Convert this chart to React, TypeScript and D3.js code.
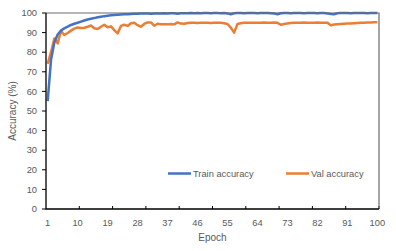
import React, { useRef, useEffect } from 'react';
import * as d3 from 'd3';

// epochs 1..100
const epochs: number[] = d3.range(1, 101);

const trainAcc: number[] = [
  55, 76, 85, 89, 91, 92.2, 93, 93.9, 94.5, 95,
  95.6, 96.2, 96.7, 97.1, 97.4, 97.8, 98.1, 98.4, 98.6, 98.8,
  99, 99.1, 99.2, 99.3, 99.4, 99.5, 99.6, 99.6, 99.7, 99.7,
  99.8, 99.6, 99.8, 99.7, 99.8, 99.9, 99.8, 99.9, 99.9, 99.6,
  99.9, 99.9, 99.9, 100, 99.9, 100, 99.9, 100, 100, 99.9,
  100, 100, 99.9, 100, 99.8, 99.4, 99.9, 100, 100, 99.9,
  100, 100, 100, 99.9, 100, 100, 100, 99.9, 99.8, 99.4,
  99.9, 100, 100, 99.9, 100, 100, 100, 99.9, 100, 100,
  100, 99.9, 100, 100, 99.8, 99.5, 99.4, 99.9, 100, 100,
  100, 99.9, 100, 100, 100, 100, 99.9, 100, 100, 100,
];

const valAcc: number[] = [
  74, 80, 87, 84.5, 90.8, 88.8, 89.8, 91, 92, 92.6,
  92.4, 92.5, 93, 93.6, 92.2, 91.8, 93, 94, 92.7, 93.2,
  91.3, 89.6, 93.4, 94, 93.4, 94.8, 95, 93.8, 93, 94.4,
  95.2, 95.2, 93.5, 94.5, 94.3, 94.2, 94.2, 94.4, 94.2, 95.2,
  94.6, 94.5, 94.9, 95, 95, 94.9, 95, 95, 95, 94.9,
  95, 95, 95, 94.8, 94.4, 92.5, 90, 94.4, 94.8, 95,
  95, 95, 95, 95, 95, 95.1, 95, 95, 95.1, 95,
  94, 94.4, 94.7, 94.9, 95, 95, 95, 95.1, 95, 95,
  95, 95.2, 95, 95, 95, 93.8, 94.1, 94.3, 94.4, 94.5,
  94.6, 94.7, 94.8, 94.9, 95, 95, 95.1, 95.2, 95.3, 95.3,
];

const yTicks: number[] = [0, 10, 20, 30, 40, 50, 60, 70, 80, 90, 100];
const xLabels: number[] = [1, 10, 19, 28, 37, 46, 55, 64, 73, 82, 91, 100];

const W = 396;
const H = 251;
const M = { top: 13, right: 17, bottom: 42, left: 46 };
const FONT = '"Liberation Sans", Arial, sans-serif';
const TXT = '#595959';

const App = () => {
  const svgRef = useRef<SVGSVGElement>(null);

  useEffect(() => {
    const svg = d3.select(svgRef.current);
    svg.selectAll('*').remove();

    const x = d3
      .scaleBand<number>()
      .domain(epochs)
      .range([M.left, W - M.right]);
    const y = d3
      .scaleLinear()
      .domain([0, 100])
      .range([H - M.bottom, M.top]);
    const cx = (e: number) => (x(e) as number) + x.bandwidth() / 2;

    // y axis ticks + labels
    const ya = svg.append('g');
    ya.selectAll('line')
      .data(yTicks)
      .enter()
      .append('line')
      .attr('x1', M.left - 4)
      .attr('x2', M.left)
      .attr('y1', (d) => y(d))
      .attr('y2', (d) => y(d))
      .attr('stroke', '#000')
      .attr('stroke-width', 1);
    ya.selectAll('text')
      .data(yTicks)
      .enter()
      .append('text')
      .attr('x', M.left - 9)
      .attr('y', (d) => y(d))
      .attr('dy', '0.35em')
      .attr('text-anchor', 'end')
      .style('font', `9.3px ${FONT}`)
      .attr('fill', TXT)
      .text((d) => d);

    // x axis ticks every 10 epochs, labels every 9
    const xa = svg.append('g');
    xa.selectAll('line')
      .data(d3.range(10, 101, 10))
      .enter()
      .append('line')
      .attr('x1', (d) => (x(d) as number) + x.bandwidth())
      .attr('x2', (d) => (x(d) as number) + x.bandwidth())
      .attr('y1', y(0) - 3)
      .attr('y2', y(0))
      .attr('stroke', '#000');
    xa.selectAll('text')
      .data(xLabels)
      .enter()
      .append('text')
      .attr('x', (d) => cx(d))
      .attr('y', y(0) + 16.5)
      .attr('text-anchor', 'middle')
      .style('font', `9.3px ${FONT}`)
      .attr('fill', TXT)
      .text((d) => d);

    // lines
    const line = d3
      .line<number>()
      .x((_, i) => cx(epochs[i]))
      .y((d) => y(d));

    svg.append('path')
      .datum(valAcc)
      .attr('d', line)
      .attr('fill', 'none')
      .attr('stroke', '#ED7D31')
      .attr('stroke-width', 2.5)
      .attr('stroke-linejoin', 'round');
    svg.append('path')
      .datum(trainAcc)
      .attr('d', line)
      .attr('fill', 'none')
      .attr('stroke', '#4472C4')
      .attr('stroke-width', 2.5)
      .attr('stroke-linejoin', 'round');

    // plot frame: gray top/right, black axes
    svg.append('path')
      .attr('d', `M${M.left},${M.top}H${W - M.right}V${y(0)}`)
      .attr('fill', 'none')
      .attr('stroke', '#6b6b6b')
      .attr('stroke-width', 1.2);
    svg.append('path')
      .attr('d', `M${M.left},${M.top}V${y(0)}H${W - M.right}`)
      .attr('fill', 'none')
      .attr('stroke', '#000')
      .attr('stroke-width', 1.3);

    // axis titles
    svg.append('text')
      .attr('transform', `translate(16,${(M.top + y(0)) / 2}) rotate(-90)`)
      .attr('text-anchor', 'middle')
      .style('font', `10px ${FONT}`)
      .attr('fill', TXT)
      .text('Accuracy (%)');
    svg.append('text')
      .attr('x', (M.left + W - M.right) / 2)
      .attr('y', 241)
      .attr('text-anchor', 'middle')
      .style('font', `10px ${FONT}`)
      .attr('fill', TXT)
      .text('Epoch');

    // legend
    const legend = [
      { name: 'Train accuracy', color: '#4472C4', x0: 168 },
      { name: 'Val accuracy', color: '#ED7D31', x0: 286 },
    ];
    const lg = svg.append('g');
    legend.forEach((l) => {
      lg.append('line')
        .attr('x1', l.x0)
        .attr('x2', l.x0 + 23)
        .attr('y1', 173.5)
        .attr('y2', 173.5)
        .attr('stroke', l.color)
        .attr('stroke-width', 2.5);
      lg.append('text')
        .attr('x', l.x0 + 25)
        .attr('y', 173.5)
        .attr('dy', '0.35em')
        .style('font', `9.3px ${FONT}`)
        .attr('fill', TXT)
        .text(l.name);
    });
  }, []);

  return (
    <svg
      ref={svgRef}
      width={W}
      height={H}
      style={{ position: 'absolute', left: 0, top: 0, background: '#fff' }}
    />
  );
};

export default App;
